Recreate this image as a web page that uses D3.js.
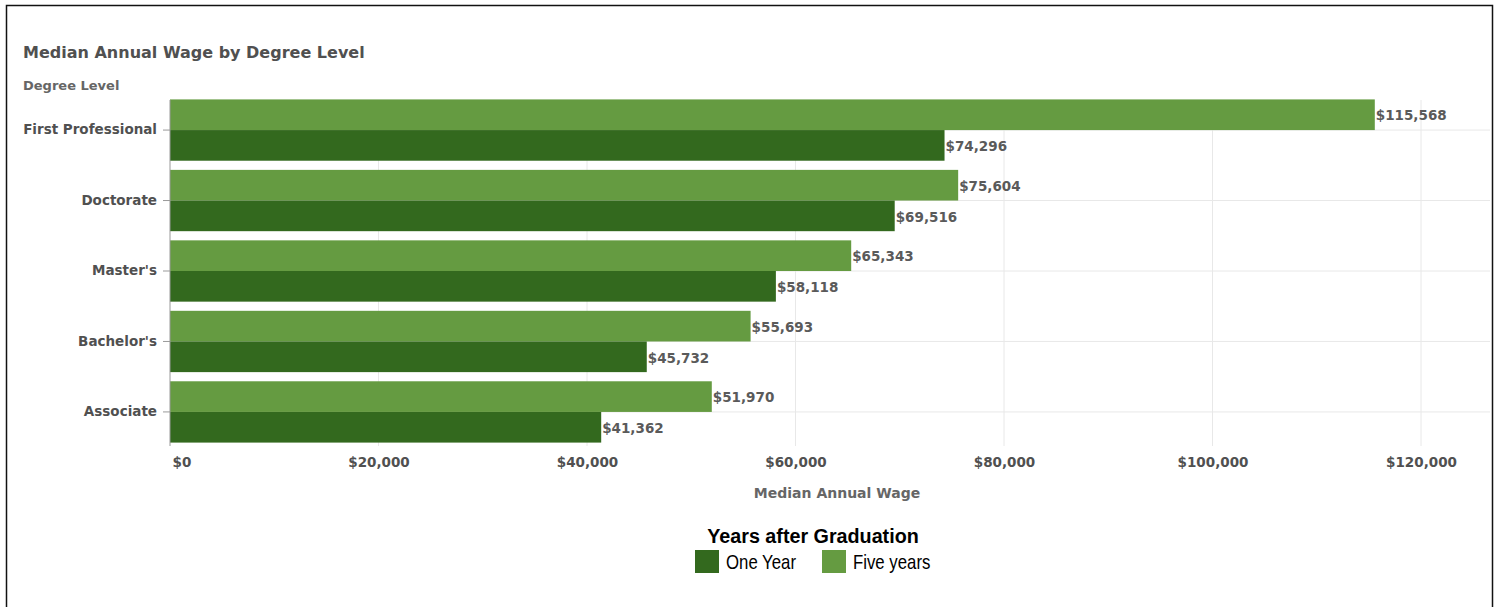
<!DOCTYPE html>
<html>
<head>
<meta charset="utf-8">
<script src="https://cdn.jsdelivr.net/npm/d3@7"></script>
<style>
  html, body { margin: 0; padding: 0; background: #fff; }
  svg { display: block; }
</style>
</head>
<body>
<svg id="chart" width="1501" height="607"></svg>
<script>
const categories = ["First Professional", "Doctorate", "Master's", "Bachelor's", "Associate"];
const seriesNames = ["Five years", "One Year"];
const fiveYears = [115568, 75604, 65343, 55693, 51970];
const oneYear = [74296, 69516, 58118, 45732, 41362];
const xTicks = [0, 20000, 40000, 60000, 80000, 100000, 120000];
const legendOrder = ["One Year", "Five years"];
const colors = { "One Year": "#33691e", "Five years": "#659b41" };

(function () {
const svg = d3.select("#chart");
const font = "'DejaVu Sans', Verdana, sans-serif";
const textCol = "#505050";

// frame
svg.append("path")
  .attr("d", "M6.5,610 V5.5 H1492.5 V610")
  .attr("fill", "none").attr("stroke", "#111").attr("stroke-width", 1.5);

const plotLeft = 170, plotRight = 1421, plotTop = 98, plotBottom = 444;
const x = d3.scaleLinear().domain([0, 120000]).range([plotLeft, plotRight]);
const y = d3.scaleBand().domain(categories).range([plotTop, plotBottom]).paddingInner(0.13).paddingOuter(0.02);
const y2 = d3.scaleBand().domain(seriesNames).range([0, y.bandwidth()]);

// gridlines
const grid = svg.append("g");
grid.selectAll("line.v").data(xTicks.slice(1)).join("line")
  .attr("class", "v")
  .attr("x1", d => x(d)).attr("x2", d => x(d))
  .attr("y1", 100).attr("y2", 446)
  .attr("stroke", "#e8e8e8").attr("stroke-width", 1);
grid.selectAll("line.h").data(categories).join("line")
  .attr("class", "h")
  .attr("x1", plotLeft).attr("x2", 1490)
  .attr("y1", d => y(d) + y.bandwidth() / 2).attr("y2", d => y(d) + y.bandwidth() / 2)
  .attr("stroke", "#e8e8e8").attr("stroke-width", 1);

// bars
const rows = categories.map((c, i) => ({ cat: c, vals: [
  { s: "Five years", v: fiveYears[i] },
  { s: "One Year", v: oneYear[i] }
]}));

const groups = svg.append("g").selectAll("g").data(rows).join("g")
  .attr("transform", d => `translate(0,${y(d.cat)})`);
groups.selectAll("rect").data(d => d.vals).join("rect")
  .attr("x", x(0))
  .attr("y", d => y2(d.s))
  .attr("width", d => x(d.v) - x(0))
  .attr("height", y2.bandwidth())
  .attr("fill", d => colors[d.s]);
groups.selectAll("text").data(d => d.vals).join("text")
  .attr("x", d => x(d.v) + 1)
  .attr("y", d => y2(d.s) + y2.bandwidth() / 2 + 1)
  .attr("dy", "0.35em")
  .attr("font-family", font).attr("font-size", 13.5).attr("font-weight", 700)
  .attr("fill", "#5a5a5a")
  .text(d => d3.format("$,")(d.v));

// y axis
const yAxis = svg.append("g").attr("transform", `translate(${plotLeft},0)`)
  .call(d3.axisLeft(y).tickSize(7).tickPadding(6));
yAxis.select(".domain").attr("stroke", "#999").attr("d", `M0,100V446`);
yAxis.selectAll(".tick line").attr("stroke", "#999");
yAxis.selectAll(".tick text").attr("font-family", font).attr("font-size", 13.5)
  .attr("font-weight", 700).attr("fill", textCol);

// x axis
const xAxis = svg.append("g").attr("transform", `translate(0,446)`)
  .call(d3.axisBottom(x).tickValues(xTicks).tickSize(0).tickPadding(11).tickFormat(d3.format("$,")));
xAxis.select(".domain").remove();
xAxis.selectAll(".tick text").attr("font-family", font).attr("font-size", 13.5)
  .attr("font-weight", 700).attr("fill", textCol)
  .attr("text-anchor", d => d === 0 ? "start" : "middle")
  .attr("dx", d => d === 0 ? 2 : 0);

// titles
svg.append("text").attr("x", 23).attr("y", 58)
  .attr("font-family", font).attr("font-size", 16).attr("font-weight", 700).attr("fill", textCol)
  .text("Median Annual Wage by Degree Level");
svg.append("text").attr("x", 23).attr("y", 90)
  .attr("font-family", font).attr("font-size", 13).attr("font-weight", 700).attr("fill", "#666")
  .text("Degree Level");
svg.append("text").attr("x", 837).attr("y", 498)
  .attr("text-anchor", "middle")
  .attr("font-family", font).attr("font-size", 14).attr("font-weight", 700).attr("fill", "#666")
  .text("Median Annual Wage");

// legend
const lf = "'Liberation Sans', Arial, sans-serif";
svg.append("g").attr("transform", "translate(813,543) scale(0.94,1)")
  .append("text").attr("text-anchor", "middle")
  .attr("font-family", lf).attr("font-size", 21).attr("font-weight", 700).attr("fill", "#000")
  .text("Years after Graduation");
const legX = [695, 822];
const leg = svg.append("g").selectAll("g").data(legendOrder).join("g")
  .attr("transform", (d, i) => `translate(${legX[i]},550)`);
leg.append("rect").attr("width", 24).attr("height", 23).attr("fill", d => colors[d]);
leg.append("g").attr("transform", "translate(31,19) scale(0.84,1)")
  .append("text")
  .attr("font-family", lf).attr("font-size", 20).attr("fill", "#000")
  .text(d => d);
})();
</script>
</body>
</html>
